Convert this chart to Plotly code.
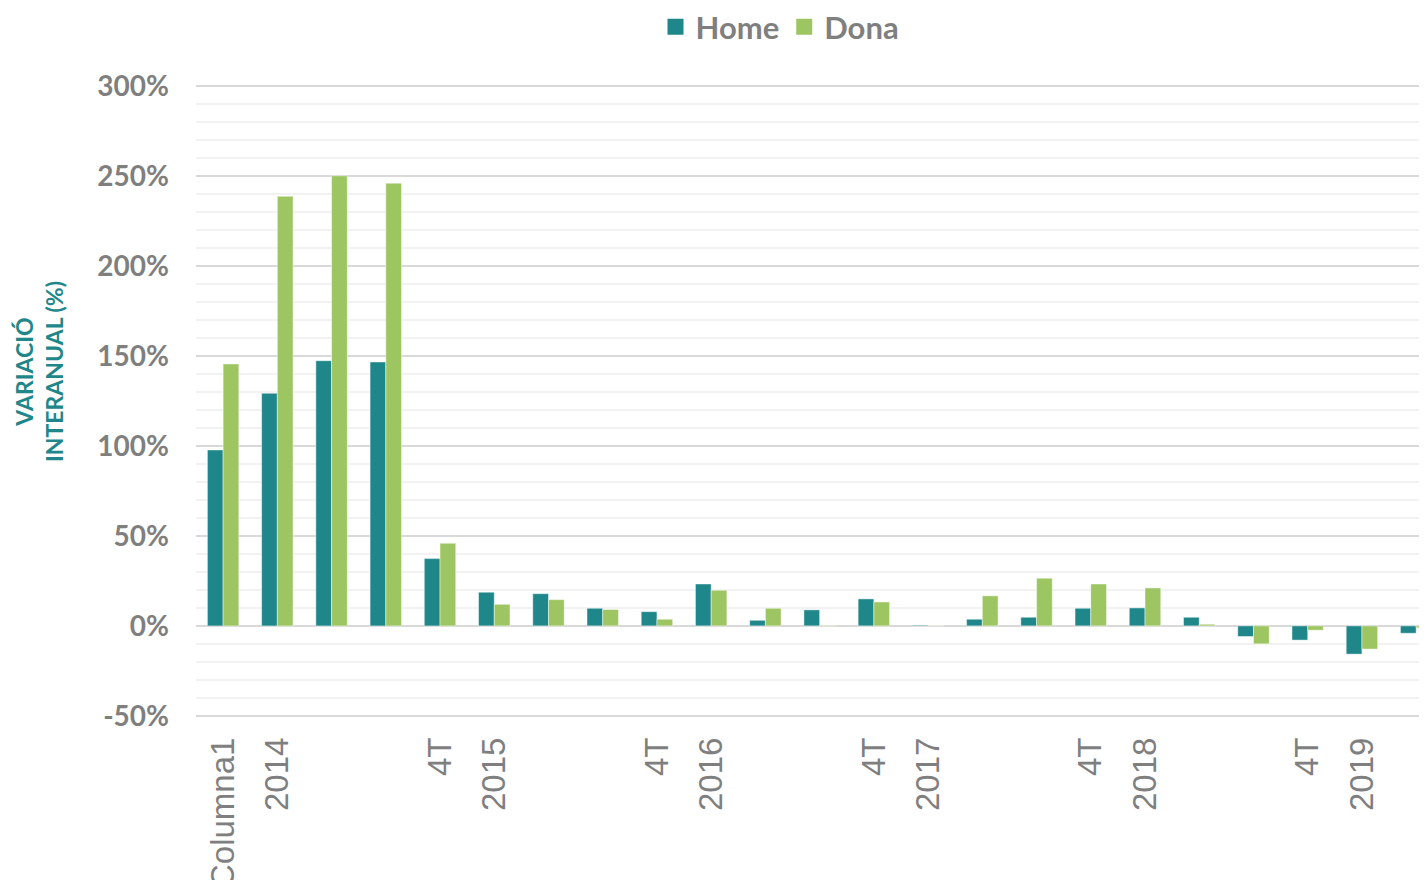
import plotly.graph_objects as go

categories = ["Columna1", "2014", "", "", "4T", "2015", "", "", "4T", "2016", "", "",
              "4T", "2017", "", "", "4T", "2018", "", "", "4T", "2019", ""]
home = [97.8, 129.3, 147.4, 146.7, 37.4, 18.7, 17.9, 9.8, 7.9, 23.3, 3.1, 8.9,
        15.0, 0.4, 3.7, 4.8, 9.8, 10.0, 4.8, -5.9, -7.9, -15.7, -4.1]
dona = [145.6, 238.8, 250.2, 246.1, 45.9, 12.0, 14.6, 9.1, 3.7, 19.8, 9.8, 0.3,
        13.3, 0.2, 16.7, 26.5, 23.3, 21.1, 0.9, -10.0, -2.4, -12.9, -1.1]
y_ticks = [-50, 0, 50, 100, 150, 200, 250, 300]
y_ticktext = ["-50%", "0%", "50%", "100%", "150%", "200%", "250%", "300%"]

TEAL = "#1F878A"
GREEN = "#9DC663"
GRAY = "#7F7F7F"

xpos = list(range(len(categories)))

fig = go.Figure()
fig.add_trace(go.Bar(x=xpos, y=home, name="Home", marker_color=TEAL, showlegend=False,
                     legendgroup="h",
                     marker_line=dict(color="rgba(255,255,255,0.45)", width=1)))
fig.add_trace(go.Bar(x=xpos, y=dona, name="Dona", marker_color=GREEN, showlegend=False,
                     legendgroup="d",
                     marker_line=dict(color="rgba(255,255,255,0.45)", width=1)))
# legend entries with larger square swatches
fig.add_trace(go.Scatter(x=[None], y=[None], mode="markers", name="Home", legendgroup="h",
                         marker=dict(symbol="square", size=18, color=TEAL)))
fig.add_trace(go.Scatter(x=[None], y=[None], mode="markers", name="Dona", legendgroup="d",
                         marker=dict(symbol="square", size=18, color=GREEN)))

# the page body adds an 8px offset; size the figure so it fills the window
OFF = 8
W, H = 1427 - OFF, 880 - OFF
L, R, T, B = 196 - OFF, 0, 84 - OFF, 880 - 718
pw = W - L - R
ph = H - T - B

fig.update_layout(
    width=W, height=H,
    margin=dict(l=L, r=R, t=T, b=B, pad=0, autoexpand=False),
    plot_bgcolor="white", paper_bgcolor="white",
    barmode="group", bargap=0.42, bargroupgap=0,
    showlegend=True,
    legend=dict(orientation="h", x=(780 - 196) / pw, xanchor="center",
                y=(718 - 27) / ph, yanchor="middle",
                font=dict(family="Lato", size=31, color=GRAY, weight="bold"),
                itemwidth=30, tracegroupgap=0, itemsizing="trace"),
    xaxis=dict(
        range=[-0.5, 22.2], automargin=False,
        tickmode="array", tickvals=xpos, ticktext=categories,
        tickangle=-90, showgrid=False, zeroline=False, showline=False,
        ticks="", ticklabelstandoff=12,
        tickfont=dict(family="Liberation Sans", size=33, color=GRAY),
    ),
    yaxis=dict(
        range=[-51.2, 301.2], automargin=False,
        tickmode="array", tickvals=y_ticks, ticktext=y_ticktext,
        showgrid=True, gridcolor="#D9D9D9", gridwidth=2,
        zeroline=True, zerolinecolor="#D9D9D9", zerolinewidth=2,
        showline=False, ticks="", ticklabelstandoff=26,
        tickfont=dict(family="Lato", size=28, color=GRAY, weight="bold"),
        minor=dict(dtick=10, showgrid=True, gridcolor="#F2F2F2", gridwidth=2),
    ),
    annotations=[dict(
        text="VARIACIÓ<br>INTERANUAL (%)", textangle=-90,
        xref="paper", yref="paper",
        x=(39 - 196) / pw, y=(718 - 371) / ph,
        xanchor="center", yanchor="middle", showarrow=False,
        font=dict(family="Lato", size=23, color=TEAL, weight="bold"),
    )],
)

fig.write_html("out.html")
